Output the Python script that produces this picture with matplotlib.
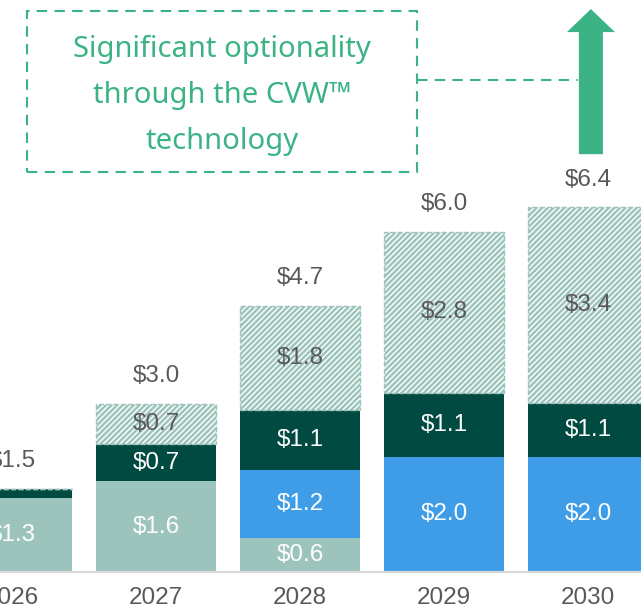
import numpy as np
import matplotlib.pyplot as plt
from matplotlib.patches import Rectangle, FancyArrow

plt.rcParams['font.family'] = ['Liberation Sans', 'DejaVu Sans']
plt.rcParams['hatch.linewidth'] = 1.8

# Stacked segments (US$ bn)
years = ['2026', '2027', '2028', '2029', '2030']
base = [1.3, 1.6, 0.6, 0.0, 0.0]
blue = [0.0, 0.0, 1.2, 2.03, 2.03]
dark = [0.16, 0.65, 1.06, 1.13, 0.95]
option = [0.0, 0.72, 1.83, 2.84, 3.45]

base_labels = ['$1.3', '$1.6', '$0.6', '', '']
blue_labels = ['', '', '$1.2', '$2.0', '$2.0']
dark_labels = ['', '$0.7', '$1.1', '$1.1', '$1.1']
option_labels = ['', '$0.7', '$1.8', '$2.8', '$3.4']
total_labels = ['$1.5', '$3.0', '$4.7', '$6.0', '$6.4']

c_base = '#9cc4bc'
c_blue = '#3f9de8'
c_dark = '#004a41'
c_green = '#3bb385'
c_gray = '#595959'

fig = plt.figure(figsize=(6.41, 6.07), dpi=100)
ax = fig.add_axes([0, 35 / 607, 1, 572 / 607])

x = np.arange(len(years))
w = 0.833
base = np.array(base)
blue = np.array(blue)
dark = np.array(dark)
option = np.array(option)

ax.bar(x, base, w, color=c_base)
ax.bar(x, blue, w, bottom=base, color=c_blue)
ax.bar(x, dark, w, bottom=base + blue, color=c_dark)
ax.bar(x, option, w, bottom=base + blue + dark, color='white',
       edgecolor=c_base, hatch='//////', linestyle='--', linewidth=1)

fs = 17.5
bottoms = [np.zeros(5), base, base + blue, base + blue + dark]
segs = [base, blue, dark, option]
labels = [base_labels, blue_labels, dark_labels, option_labels]
colors = ['white', 'white', 'white', c_gray]
for seg, bot, labs, col in zip(segs, bottoms, labels, colors):
    for i in range(len(years)):
        if labs[i]:
            ax.text(x[i], bot[i] + seg[i] / 2, labs[i], ha='center', va='center',
                    fontsize=fs, color=col)

totals = base + blue + dark + option
for i in range(len(years)):
    ax.annotate(total_labels[i], (x[i], totals[i]), xytext=(0, 20),
                textcoords='offset points', ha='center', va='center',
                fontsize=fs, color=c_gray)

# annotation box, connector and arrow
ax.add_patch(Rectangle((0.104, 7.05), 2.71, 2.84, fill=False, edgecolor=c_green,
                       linestyle=(0, (5, 3.5)), linewidth=1.5))
ax.plot([2.81, 3.93], [8.68, 8.68], color=c_green, linestyle=(0, (5, 3.5)), lw=1.5)
ax.text(1.458, 8.41, 'Significant optionality\nthrough the CVW™\ntechnology',
        ha='center', va='center', fontsize=21, color=c_green, linespacing=1.78,
        family=['Noto Sans', 'DejaVu Sans'])
ax.add_patch(FancyArrow(4.02, 7.37, 0, 2.56, width=0.167, head_width=0.333,
                        head_length=0.406, length_includes_head=True,
                        color=c_green, linewidth=0))

ax.set_xlim(-0.083, 4.368)
ax.set_ylim(0, 10.09)
ax.set_xticks(x, years)
ax.tick_params(axis='x', length=0, pad=11, labelsize=fs, labelcolor=c_gray)
ax.set_yticks([])
for s in ['top', 'left', 'right']:
    ax.spines[s].set_visible(False)
ax.spines['bottom'].set_color('#d9d9d9')
ax.spines['bottom'].set_linewidth(1.6)

fig.savefig('out.png', dpi=100)
